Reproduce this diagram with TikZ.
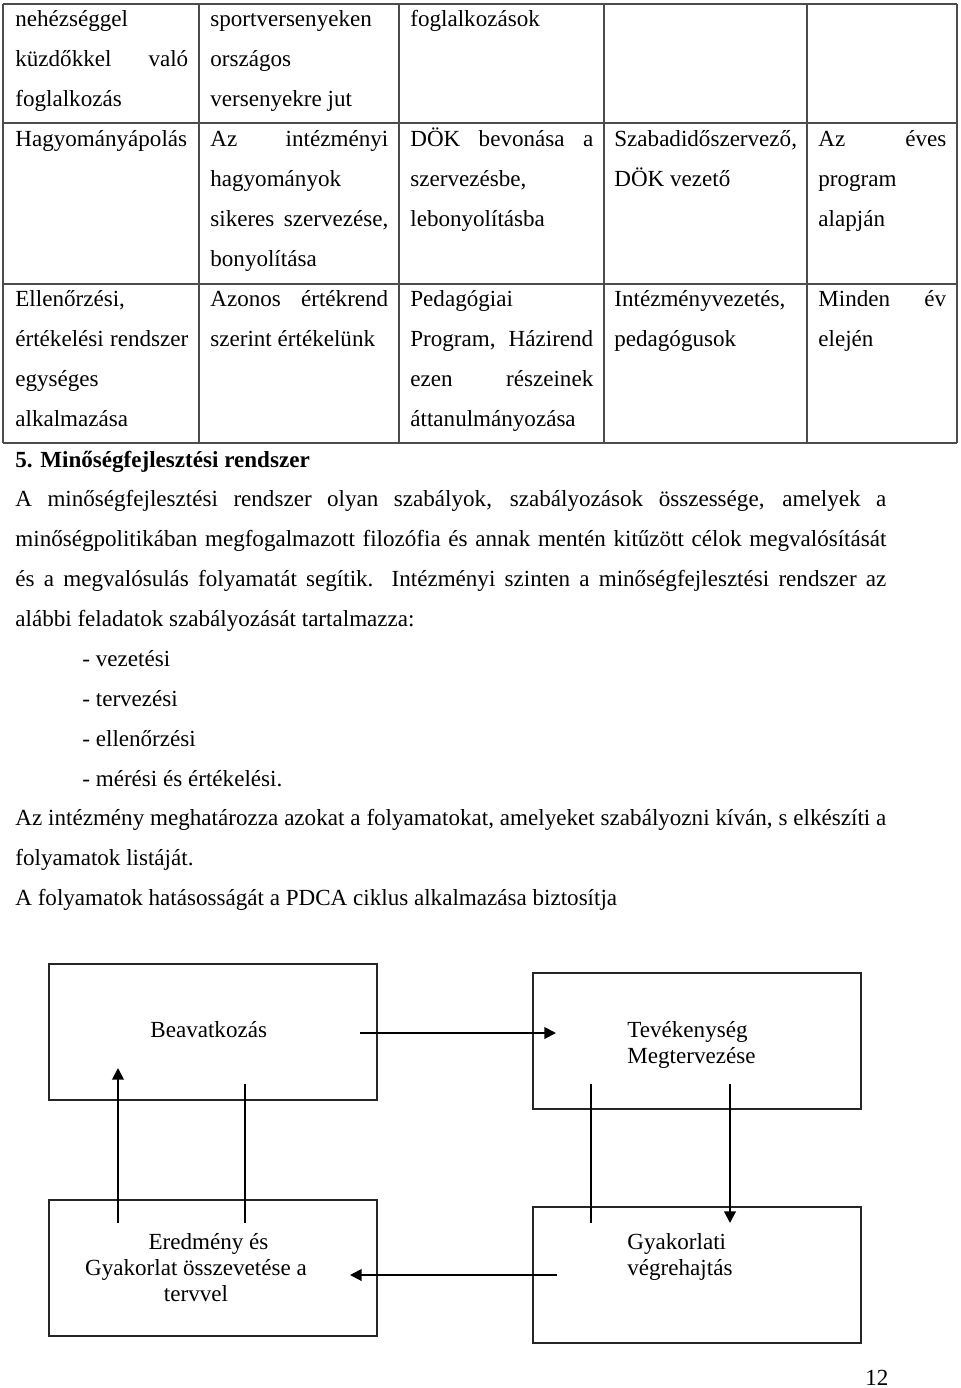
\documentclass[tikz,border=0pt]{standalone}
\usepackage{fontspec}
\setmainfont{Liberation Serif}
\usetikzlibrary{arrows.meta}
\hyphenpenalty=10000
\exhyphenpenalty=10000
\newcommand{\jline}[1]{\makebox[\hsize][s]{\spaceskip=0pt\xspaceskip=0pt #1}}

\begin{document}
\begin{tikzpicture}[x=0.52pt,y=-0.52pt,font={\fontsize{12}{20.8}\selectfont},
  execute at begin node={\spaceskip=0pt\xspaceskip=0pt},
  cell/.style={anchor=base west,inner sep=0pt,align=left},
  tab/.style={line width=0.8pt,black!70},
  box/.style={draw,black!85,line width=0.9pt,inner sep=0pt,minimum width=170.5pt,minimum height=70.7pt},
  boxtext/.style={anchor=base west,inner sep=0pt,align=left,font={\fontsize{12}{13.6}\selectfont}},
  arr/.style={-{Triangle[length=6pt,width=6pt]},line width=1pt}]
\useasboundingbox (0,0) rectangle (960,1388);

% table grid
\foreach \x in {3,199,399,604,807,957}
  \draw[tab] (\x,4) -- (\x,443);
\foreach \y in {4,123,284,443}
  \draw[tab] (3,\y) -- (957,\y);

% row 1
\node[cell,text width=89.9pt] (r1c1) at (15,26) {nehézséggel\\\jline{küzdőkkel való}\\foglalkozás};
\node[cell,text width=92.5pt] (r1c2) at (210,26) {sportversenyeken\\országos\\versenyekre jut};
\node[cell,text width=95.1pt] (r1c3) at (410,26) {foglalkozások};
% row 2
\node[cell,text width=89.9pt] (r2c1) at (15,146) {Hagyományápolás};
\node[cell,text width=92.5pt] (r2c2) at (210,146) {\jline{Az intézményi}\\hagyományok\\\jline{sikeres szervezése,}\\bonyolítása};
\node[cell,text width=95.1pt] (r2c3) at (410,146) {\jline{DÖK bevonása a}\\szervezésbe,\\lebonyolításba};
\node[cell,text width=95.1pt] (r2c4) at (614,146) {Szabadidőszervező,\\DÖK vezető};
\node[cell,text width=66.5pt] (r2c5) at (818,146) {\jline{Az éves}\\program\\alapján};
% row 3
\node[cell,text width=89.9pt] (r3c1) at (15,306) {Ellenőrzési,\\\jline{értékelési rendszer}\\egységes\\alkalmazása};
\node[cell,text width=92.5pt] (r3c2) at (210,306) {\jline{Azonos értékrend}\\szerint értékelünk};
\node[cell,text width=95.1pt] (r3c3) at (410,306) {Pedagógiai\\\jline{Program, Házirend}\\\jline{ezen részeinek}\\áttanulmányozása};
\node[cell,text width=95.1pt] (r3c4) at (614,306) {Intézményvezetés,\\pedagógusok};
\node[cell,text width=66.5pt] (r3c5) at (818,306) {\jline{Minden év}\\elején};

% section text
\node[cell,font={\fontsize{12}{20.8}\selectfont\bfseries}] (head) at (15,467) {5. Minőségfejlesztési rendszer};
\node[cell,text width=452.9pt] (par1) at (15,506)
  {\jline{A minőségfejlesztési rendszer olyan szabályok, szabályozások összessége, amelyek a}\\
   \jline{minőségpolitikában megfogalmazott filozófia és annak mentén kitűzött célok megvalósítását}\\
   \jline{és a megvalósulás folyamatát segítik. Intézményi szinten a minőségfejlesztési rendszer az}\\
   alábbi feladatok szabályozását tartalmazza:};
\node[cell,text width=200pt] (list) at (82,666) {- vezetési\\- tervezési\\- ellenőrzési\\- mérési és értékelési.};
\node[cell,text width=452.9pt] (par2) at (15,825)
  {\jline{Az intézmény meghatározza azokat a folyamatokat, amelyeket szabályozni kíván, s elkészíti a}\\
   folyamatok listáját.\\
   A folyamatok hatásosságát a PDCA ciklus alkalmazása biztosítja};

% PDCA boxes
\node[box] (beav) at (213,1032) {};
\node[box] (tev) at (697,1041) {};
\node[box] (ered) at (213,1268) {};
\node[box] (gyak) at (697,1275) {};
\node[boxtext] (beavt) at (150,1037) {Beavatkozás};
\node[boxtext,text width=120pt] (tevt) at (627,1037) {Tevékenység\\Megtervezése};
\node[boxtext,anchor=base,align=center,text width=130pt] (eredt) at (196,1249)
  {\hspace*{13pt}\mbox{Eredmény és}\\\mbox{Gyakorlat összevetése a}\\\mbox{tervvel}};
\node[boxtext,text width=120pt] (gyakt) at (627,1249) {Gyakorlati\\végrehajtás};

% connectors
\coordinate (a1) at (360,1033); \coordinate (a2) at (556,1033);
\draw[arr] (a1) -- (a2);
\coordinate (b1) at (591,1084); \coordinate (b2) at (591,1223);
\draw[line width=0.9pt] (b1) -- (b2);
\coordinate (c1) at (730,1084); \coordinate (c2) at (730,1223);
\draw[arr] (c1) -- (c2);
\coordinate (d1) at (557,1275); \coordinate (d2) at (350,1275);
\draw[arr] (d1) -- (d2);
\coordinate (e1) at (118,1223); \coordinate (e2) at (118,1068);
\draw[arr] (e1) -- (e2);
\coordinate (f1) at (245,1084); \coordinate (f2) at (245,1223);
\draw[line width=0.9pt] (f1) -- (f2);

% page number
\node[cell] (pnum) at (865,1385) {12};
\end{tikzpicture}
\end{document}
